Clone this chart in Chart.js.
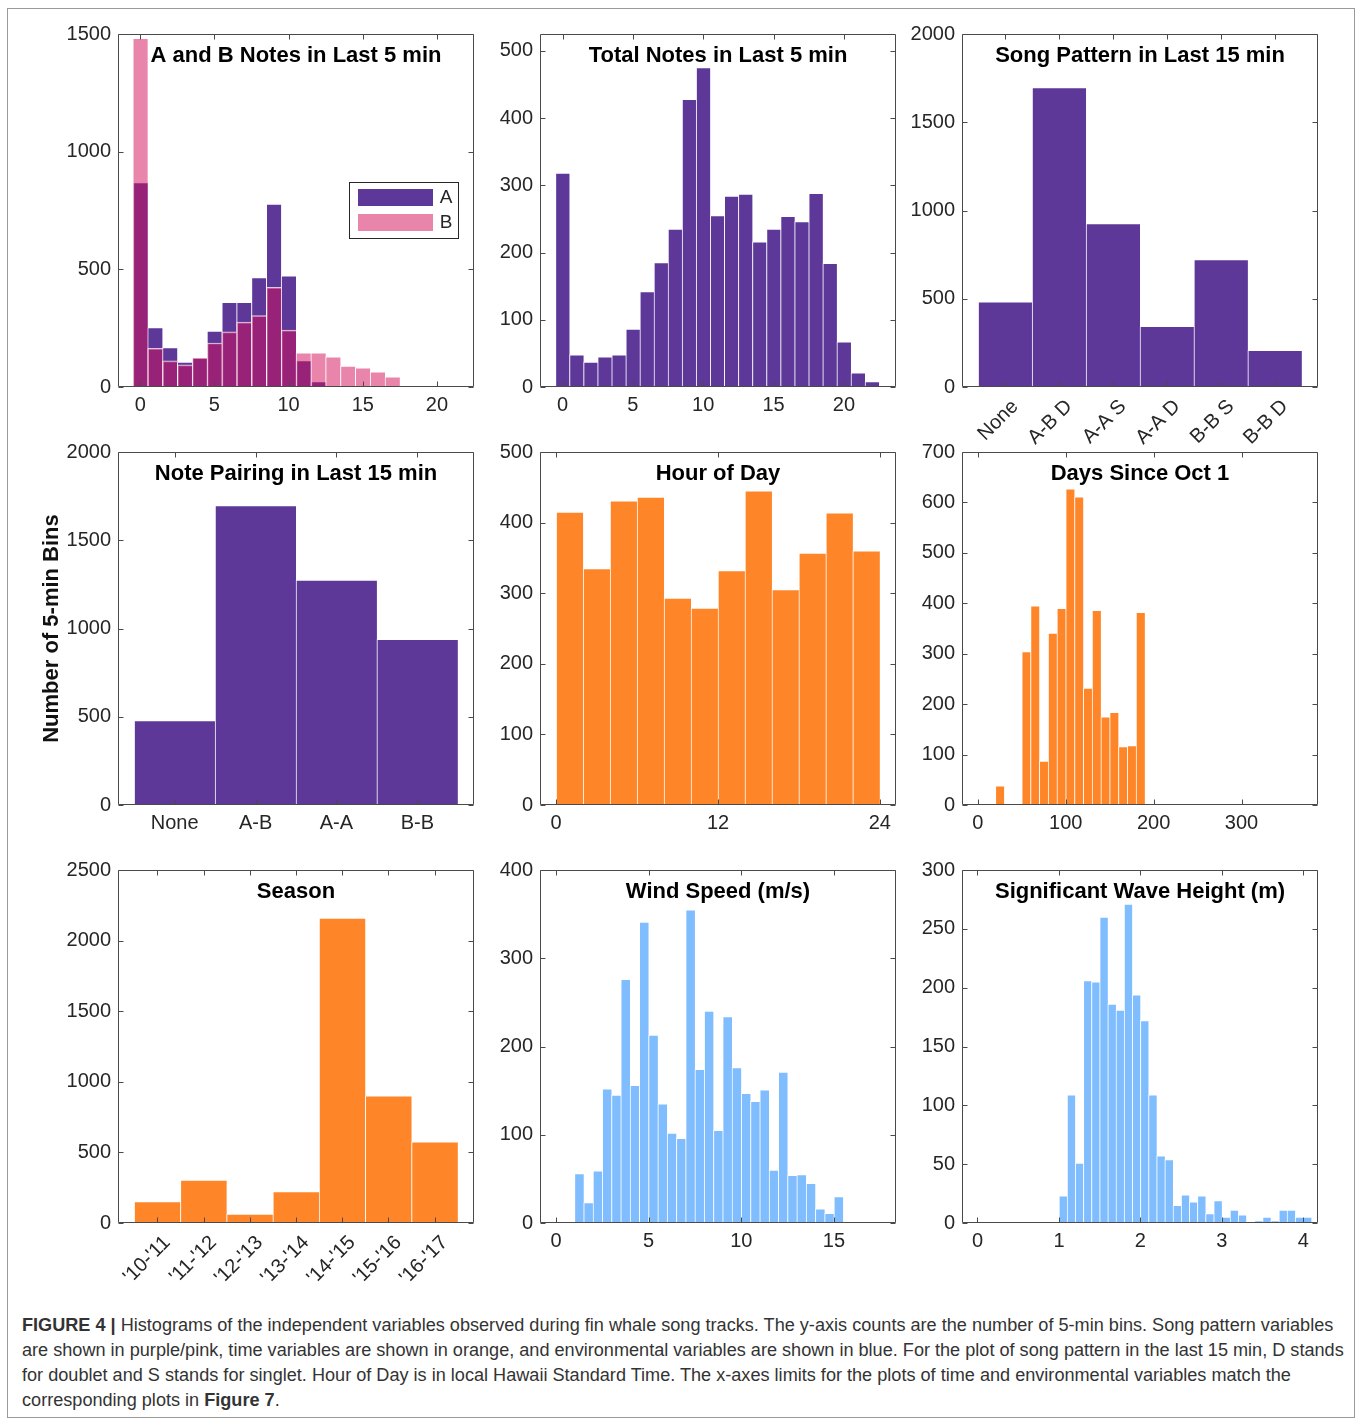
<!DOCTYPE html>
<html><head><meta charset="utf-8">
<script src="https://cdn.jsdelivr.net/npm/chart.js@4.4.1/dist/chart.umd.min.js"></script>
<style>
body{margin:0;background:#fff;width:1358px;height:1421px;position:relative;overflow:hidden;font-family:"Liberation Sans",Arial,Helvetica,sans-serif;}
#frame{position:absolute;left:7px;top:8px;width:1348px;height:1410px;border:1px solid #9a9a9a;box-sizing:border-box;}
.panel{position:absolute;}
#caption{position:absolute;left:22px;top:1313px;font-size:17px;line-height:25px;color:#333;white-space:nowrap;}
#caption div{white-space:nowrap;}
</style></head><body>
<div id="frame"></div>
<div id="caption">
<div><span id="cl1"><b>FIGURE 4 |</b> Histograms of the independent variables observed during fin whale song tracks. The y-axis counts are the number of 5-min bins. Song pattern variables</span></div>
<div>are shown in purple/pink, time variables are shown in orange, and environmental variables are shown in blue. For the plot of song pattern in the last 15 min, D stands</div>
<div>for doublet and S stands for singlet. Hour of Day is in local Hawaii Standard Time. The x-axes limits for the plots of time and environmental variables match the</div>
<div>corresponding plots in <b>Figure 7</b>.</div>
</div>
<script>
// ---------- DATA ----------
const abBins = [0,1,2,3,4,5,6,7,8,9,10,11,12,13,14,15,16,17,18,19,20];
const notesA = [869,252,167,106,125,238,360,360,465,777,472,112,23,4,0,0,0,0,0,0,0];
const notesB = [1482,164,111,94,125,187,234,276,303,423,242,145,145,128,89,81,64,43,6,0,0];
const abTicks = [0,5,10,15,20];

const totalBins = [0,1,2,3,4,5,6,7,8,9,10,11,12,13,14,15,16,17,18,19,20,21,22];
const totalCounts = [318,48,37,45,48,86,142,185,235,428,475,255,284,287,216,235,254,246,288,184,67,21,8];
const totalTicks = [0,5,10,15,20];

const songLabels = ['None','A-B D','A-A S','A-A D','B-B S','B-B D'];
const songCounts = [482,1697,926,344,722,208];

const pairLabels = ['None','A-B','A-A','B-B'];
const pairCounts = [478,1697,1274,939];

const hourBins = [1,3,5,7,9,11,13,15,17,19,21,23];
const hourCounts = [415,335,431,436,293,279,332,445,305,357,414,360];
const hourTicks = [0,12,24];

const dayBins = [25,55,65,75,85,95,105,115,125,135,145,155,165,175,185];
const dayCounts = [38,304,395,87,341,390,627,611,232,386,175,184,116,118,382];
const dayTicks = [0,100,200,300];

const seasonLabels = ["'10-'11","'11-'12","'12-'13","'13-'14","'14-'15","'15-'16","'16-'17"];
const seasonCounts = [151,304,64,222,2160,901,575];

const windBins = [1.25,1.75,2.25,2.75,3.25,3.75,4.25,4.75,5.25,5.75,6.25,6.75,7.25,7.75,8.25,8.75,9.25,9.75,10.25,10.75,11.25,11.75,12.25,12.75,13.25,13.75,14.25,14.75,15.25];
const windCounts = [56,23,59,152,145,276,156,341,213,135,102,96,355,174,240,105,234,176,147,138,151,60,171,54,55,45,16,11,30];
const windTicks = [0,5,10,15];

const waveBins = [1.05,1.15,1.25,1.35,1.45,1.55,1.65,1.75,1.85,1.95,2.05,2.15,2.25,2.35,2.45,2.55,2.65,2.75,2.85,2.95,3.05,3.15,3.25,3.35,3.45,3.55,3.65,3.75,3.85,3.95,4.05];
const waveCounts = [23,109,51,206,205,260,186,181,271,194,172,109,57,54,15,24,18,23,8,19,5,11,7,0,2,5,2,11,11,5,5];
const waveTicks = [0,1,2,3,4];

// ---------- STYLE ----------
const FONT = '"Liberation Sans", Arial, Helvetica, sans-serif';
const PURPLE = '#5D3899';
const PINK = 'rgba(211,11,87,0.5)';
const ORANGE = '#FE8628';
const BLUE = '#80BDFF';
const EDGE = 'rgba(255,255,255,0.75)';
const COLS = [118,540,962];
const ROWS = [34,452,870];
const PW = 356, PH = 353;
const PADL = 90, PADT = 20, PADR = 20, PADB = 80;

const framePlugin = {
  id:'frame',
  afterDatasetsDraw(chart, args, opts){
    const {ctx, chartArea, scales} = chart;
    const {left, top, right, bottom} = chartArea;
    const x = scales.x, y = scales.y;
    ctx.save();
    ctx.strokeStyle = '#4a4a4a';
    ctx.lineWidth = 1;
    const L = Math.round(left)+0.5, R = Math.round(right)-0.5, T = Math.round(top)+0.5, B = Math.round(bottom)-0.5;
    ctx.beginPath();
    ctx.rect(L, T, R-L, B-T);
    const tl = 5;
    x.ticks.forEach(t => {
      const px = Math.round(x.getPixelForValue(t.value))+0.5;
      ctx.moveTo(px, B); ctx.lineTo(px, B-tl);
      ctx.moveTo(px, T); ctx.lineTo(px, T+tl);
    });
    y.ticks.forEach(t => {
      const py = Math.round(y.getPixelForValue(t.value))+0.5;
      ctx.moveTo(L, py); ctx.lineTo(L+tl, py);
      ctx.moveTo(R, py); ctx.lineTo(R-tl, py);
    });
    ctx.stroke();
    ctx.fillStyle = '#000';
    ctx.font = 'bold 22px ' + FONT;
    ctx.textAlign = 'center';
    ctx.textBaseline = 'middle';
    ctx.fillText(opts.text, (left+right)/2, top + 22);
    ctx.restore();
  }
};

const legendPlugin = {
  id:'boxLegend',
  afterDraw(chart, args, opts){
    if (!opts.show) return;
    const {ctx, chartArea} = chart;
    const w = 110, h = 57;
    const bx = Math.round(chartArea.right) - 15 - w, by = Math.round(chartArea.top) + 148;
    ctx.save();
    ctx.fillStyle = '#fff';
    ctx.fillRect(bx, by, w, h);
    ctx.strokeStyle = '#262626';
    ctx.lineWidth = 1;
    ctx.strokeRect(bx+0.5, by+0.5, w-1, h-1);
    const ds = chart.data.datasets;
    ctx.font = '19px ' + FONT;
    ctx.textAlign = 'center';
    ctx.textBaseline = 'middle';
    ds.forEach((d, i) => {
      const sy = by + 7 + i*25;
      ctx.fillStyle = d.backgroundColor;
      ctx.fillRect(bx+9, sy, 75, 17);
      ctx.fillStyle = '#262626';
      ctx.fillText(d.label, bx+97, sy+9);
    });
    ctx.restore();
  }
};

function toXY(bins, counts){ return bins.map((b,i)=>({x:b, y:counts[i]})); }
function idx(labels){ return labels.map((_,i)=>i); }

function makeConfig(o){
  const rot = o.rotate || 0;
  return {
    type:'bar',
    data:{datasets:o.datasets.map(d=>Object.assign({
      barPercentage:1, categoryPercentage:1, grouped:false,
      borderColor:EDGE, borderWidth:{left:1, top:1, right:0, bottom:0}, borderSkipped:false
    }, d))},
    options:{
      responsive:false, animation:false, devicePixelRatio:1,
      layout:{padding:{top:PADT, right:PADR, left:0, bottom:0}},
      plugins:{legend:{display:false}, tooltip:{enabled:false}, title:{display:false},
        frame:{text:o.title}, boxLegend:{show:!!o.legend}},
      scales:{
        x:{type:'linear', min:o.xMin, max:o.xMax, offset:false,
          grid:{display:false, drawTicks:false}, border:{display:false},
          afterBuildTicks:s=>{ s.ticks = o.xTicks.map(v=>({value:v})); },
          afterFit:s=>{ s.height = PADB; },
          ticks:{autoSkip:false, padding: rot ? 8 : 6, labelOffset: rot ? 10 : 0,
            color:'#262626', font:{family:FONT, size:20},
            minRotation:rot, maxRotation:rot,
            callback:(v)=> o.xLabels ? o.xLabels[v] : String(v)}
        },
        y:{type:'linear', min:0, max:o.yMax,
          grid:{display:false, drawTicks:false}, border:{display:false},
          afterBuildTicks:s=>{ s.ticks = o.yTicks.map(v=>({value:v})); },
          afterFit:s=>{ s.width = PADL; },
          ticks:{padding:7, color:'#262626', font:{family:FONT, size:20}, callback:(v)=>String(v)},
          title: o.yTitle ? {display:true, text:o.yTitle, color:'#111', font:{family:FONT, size:22, weight:'bold'}, padding:{top:11, bottom:0}} : {display:false}
        }
      }
    },
    plugins:[framePlugin, legendPlugin]
  };
}

function panel(o){
  const left = COLS[o.col], top = ROWS[o.row];
  const div = document.createElement('div');
  div.className = 'panel';
  document.body.appendChild(div);
  let W = PADL+PW+PADR, H = PADT+PH+PADB;
  let chart = null;
  for (let k = 0; k < 3; k++) {
    div.innerHTML = '';
    const canvas = document.createElement('canvas');
    canvas.width = W; canvas.height = H;
    canvas.style.width = W+'px'; canvas.style.height = H+'px';
    div.appendChild(canvas);
    if (chart) chart.destroy();
    chart = new Chart(canvas, makeConfig(o));
    const ca = chart.chartArea;
    const dw = PW - (ca.right - ca.left), dh = PH - (ca.bottom - ca.top);
    if (Math.abs(dw) < 0.5 && Math.abs(dh) < 0.5) break;
    W += Math.round(dw); H += Math.round(dh);
  }
  const ca = chart.chartArea;
  div.style.left = (left - ca.left)+'px';
  div.style.top = (top - ca.top)+'px';
}

panel({col:0,row:0,title:'A and B Notes in Last 5 min', legend:true,
  datasets:[
    {label:'A', data:toXY(abBins, notesA), backgroundColor:PURPLE, order:2},
    {label:'B', data:toXY(abBins, notesB), backgroundColor:PINK, order:1}
  ], xMin:-1.5, xMax:22.5, xTicks:abTicks, yMax:1500, yTicks:[0,500,1000,1500]});

panel({col:1,row:0,title:'Total Notes in Last 5 min',
  datasets:[{label:'Total', data:toXY(totalBins, totalCounts), backgroundColor:PURPLE}],
  xMin:-1.6, xMax:23.7, xTicks:totalTicks, yMax:525, yTicks:[0,100,200,300,400,500]});

panel({col:2,row:0,title:'Song Pattern in Last 15 min',
  datasets:[{label:'Song', data:toXY(idx(songLabels), songCounts), backgroundColor:PURPLE}],
  xMin:-0.8, xMax:5.8, xTicks:idx(songLabels), xLabels:songLabels, rotate:45,
  yMax:2000, yTicks:[0,500,1000,1500,2000]});

panel({col:0,row:1,title:'Note Pairing in Last 15 min', yTitle:'Number of 5-min Bins',
  datasets:[{label:'Pair', data:toXY(idx(pairLabels), pairCounts), backgroundColor:PURPLE}],
  xMin:-0.7, xMax:3.7, xTicks:idx(pairLabels), xLabels:pairLabels,
  yMax:2000, yTicks:[0,500,1000,1500,2000]});

panel({col:1,row:1,title:'Hour of Day',
  datasets:[{label:'Hour', data:toXY(hourBins, hourCounts), backgroundColor:ORANGE}],
  xMin:-1.2, xMax:25.2, xTicks:hourTicks, yMax:500, yTicks:[0,100,200,300,400,500]});

panel({col:2,row:1,title:'Days Since Oct 1',
  datasets:[{label:'Days', data:toXY(dayBins, dayCounts), backgroundColor:ORANGE}],
  xMin:-18, xMax:387, xTicks:dayTicks, yMax:700, yTicks:[0,100,200,300,400,500,600,700]});

panel({col:0,row:2,title:'Season',
  datasets:[{label:'Season', data:toXY(idx(seasonLabels), seasonCounts), backgroundColor:ORANGE}],
  xMin:-0.85, xMax:6.85, xTicks:idx(seasonLabels), xLabels:seasonLabels, rotate:45,
  yMax:2500, yTicks:[0,500,1000,1500,2000,2500]});

panel({col:1,row:2,title:'Wind Speed (m/s)',
  datasets:[{label:'Wind', data:toXY(windBins, windCounts), backgroundColor:BLUE}],
  xMin:-0.86, xMax:18.35, xTicks:windTicks, yMax:400, yTicks:[0,100,200,300,400]});

panel({col:2,row:2,title:'Significant Wave Height (m)',
  datasets:[{label:'Wave', data:toXY(waveBins, waveCounts), backgroundColor:BLUE}],
  xMin:-0.19, xMax:4.18, xTicks:waveTicks, yMax:300, yTicks:[0,50,100,150,200,250,300]});

// caption fit
(function(){
  const cap = document.getElementById('caption');
  const l1 = document.getElementById('cl1');
  const w = l1.getBoundingClientRect().width;
  const target = 1312;
  cap.style.fontSize = (17*target/w).toFixed(2)+'px';
})();
</script>
</body></html>
